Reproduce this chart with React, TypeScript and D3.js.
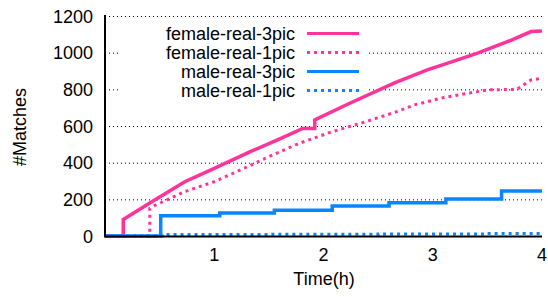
import { useEffect, useRef } from 'react'
import * as d3 from 'd3'

const W = 548
const H = 297

const yTicks = [0, 200, 400, 600, 800, 1000, 1200]
const xTicks = [1, 2, 3, 4]

// female-real-3pic
const f3T = [0, 0.167, 0.167, 0.41, 0.73, 1.0, 1.33, 1.6, 1.81, 1.92, 1.92, 2.24, 2.65, 2.95, 3.2, 3.41, 3.72, 3.9, 4.0]
const f3V = [0, 0, 90, 180, 296, 369, 460, 530, 587, 587, 633, 724, 835, 906, 955, 997, 1069, 1115, 1118]
// female-real-1pic
const f1T = [0, 0.41, 0.41, 0.45, 0.73, 1.0, 1.33, 1.5, 1.78, 2.08, 2.39, 2.67, 2.83, 3.1, 3.32, 3.5, 3.77, 3.9, 4.0]
const f1V = [0, 0, 150, 165, 242, 296, 385, 433, 506, 569, 624, 678, 715, 755, 778, 797, 800, 851, 860]
// male-real-3pic (steps)
const m3T = [0, 0.51, 1.05, 1.55, 2.08, 2.6, 3.12, 3.63, 4.0]
const m3V = [0, 110, 125, 140, 164, 182, 202, 245, 245]
// male-real-1pic (steps)
const m1T = [0, 0.55, 1.5, 2.5, 3.5, 4.0]
const m1V = [0, 8, 9, 11, 13, 15]

const PINK = '#ff3399'
const BLUE = '#0a84ff'

const series = [
  { name: 'female-real-3pic', t: f3T, v: f3V, color: PINK, dash: null, step: false },
  { name: 'female-real-1pic', t: f1T, v: f1V, color: PINK, dash: '3,4', step: false },
  { name: 'male-real-3pic', t: m3T, v: m3V, color: BLUE, dash: null, step: true },
  { name: 'male-real-1pic', t: m1T, v: m1V, color: BLUE, dash: '3,4', step: true },
]

export default function App() {
  const ref = useRef<SVGSVGElement>(null)

  useEffect(() => {
    if (!ref.current) return
    const svg = d3.select(ref.current)
    svg.selectAll('*').remove()

    const margin = { top: 16, right: 6, bottom: 61, left: 105 }
    const x = d3.scaleLinear().domain([0, 4]).range([margin.left, W - margin.right])
    const y = d3.scaleLinear().domain([0, 1200]).range([H - margin.bottom, margin.top])
    const font = 'Liberation Sans, Arial, sans-serif'

    // grid
    svg.append('g').selectAll('line').data(yTicks.filter(d => d > 0)).join('line')
      .attr('x1', x(0)).attr('x2', x(4))
      .attr('y1', d => y(d) + 0.5).attr('y2', d => y(d) + 0.5)
      .attr('stroke', '#000').attr('stroke-width', 1).attr('stroke-dasharray', '1,3')

    // legend background
    svg.append('rect').attr('x', 118).attr('y', 22).attr('width', 250).attr('height', 78).attr('fill', '#fff')

    // lines
    series.forEach(s => {
      const line = d3.line<number>()
        .x((_, i) => x(s.t[i]))
        .y(d => y(d))
        .curve(s.step ? d3.curveStepAfter : d3.curveLinear)
      svg.append('path').datum(s.v).attr('d', line)
        .attr('fill', 'none').attr('stroke', s.color).attr('stroke-width', s.dash ? 3 : 3.5)
        .attr('stroke-dasharray', s.dash)
    })

    // axes
    svg.append('line').attr('x1', x(0)).attr('x2', x(0)).attr('y1', y(1200) - 1).attr('y2', y(0) + 1)
      .attr('stroke', '#000').attr('stroke-width', 2)
    svg.append('line').attr('x1', x(0) - 1).attr('x2', x(4)).attr('y1', y(0) + 0.5).attr('y2', y(0) + 0.5)
      .attr('stroke', '#000').attr('stroke-width', 2)

    // tick labels
    svg.append('g').selectAll('text').data(yTicks).join('text')
      .attr('x', 93).attr('y', d => y(d) + 6.5)
      .attr('text-anchor', 'end').attr('font-family', font).attr('font-size', '18px')
      .text(d => d)
    svg.append('g').selectAll('text').data(xTicks).join('text')
      .attr('x', d => x(d)).attr('y', 261)
      .attr('text-anchor', 'middle').attr('font-family', font).attr('font-size', '18px')
      .text(d => d)

    // axis titles
    svg.append('text').attr('x', 324).attr('y', 285)
      .attr('text-anchor', 'middle').attr('font-family', font).attr('font-size', '18px')
      .text('Time(h)')
    svg.append('text').attr('transform', `translate(26,127) rotate(-90)`)
      .attr('text-anchor', 'middle').attr('font-family', font).attr('font-size', '18px')
      .text('#Matches')

    // legend
    series.forEach((s, i) => {
      const ly = 33.5 + i * 19
      svg.append('text').attr('x', 295).attr('y', ly + 6)
        .attr('text-anchor', 'end').attr('font-family', font).attr('font-size', '18px')
        .text(s.name)
      svg.append('line').attr('x1', 307).attr('x2', 359).attr('y1', ly).attr('y2', ly)
        .attr('stroke', s.color).attr('stroke-width', 3).attr('stroke-dasharray', s.dash)
    })
  }, [])

  return (
    <svg ref={ref} width={W} height={H}
      style={{ position: 'absolute', left: 0, top: 0, background: '#fff' }} />
  )
}
